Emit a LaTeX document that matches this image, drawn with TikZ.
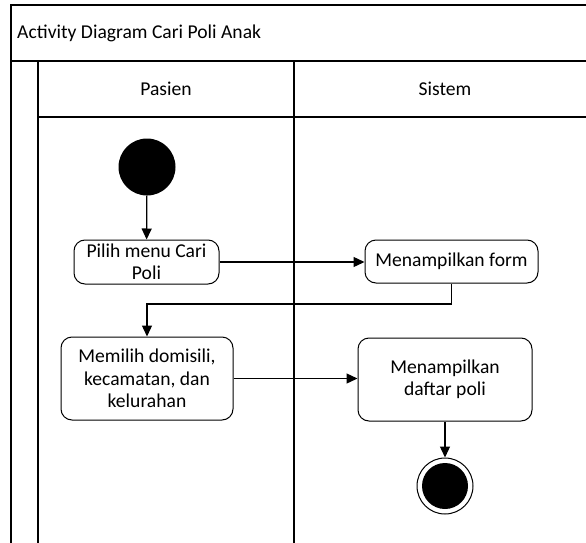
\documentclass[tikz,border=0pt]{standalone}
\usepackage{fontspec}
\setmainfont{Carlito}
\usetikzlibrary{arrows.meta}
\begin{document}
\begin{tikzpicture}[x=1pt,y=-1pt,
  every node/.style={font=\fontsize{19.6}{22.5}\selectfont},
  frame/.style={line width=1.3pt},
  action/.style={draw, line width=1pt, rounded corners=11pt, align=center, inner sep=0pt},
  flow/.style={line width=1.3pt, -{Triangle[length=11pt,width=10pt]}},
  link/.style={line width=1.3pt}]
\useasboundingbox (0,0) rectangle (586,543);
\clip (0,0) rectangle (586,543);
% swimlane frame
\draw[frame] (600,5) -- (11,5) -- (11,560);
\draw[frame] (11,61) -- (600,61);
\draw[frame] (38,61) -- (38,560);
\draw[frame] (294,61) -- (294,560);
\draw[frame] (38,117) -- (600,117);
\node[anchor=west, inner sep=0pt] (title) at (17,33) {Activity Diagram Cari Poli Anak};
\node (lane1) at (166,89) {Pasien};
\node (lane2) at (445,89) {Sistem};
% activity nodes
\node[circle, fill=black, minimum size=57pt, inner sep=0pt] (start) at (147,167) {};
\node[action, minimum width=145pt, minimum height=44pt] (b1) at (146.5,262) {Pilih menu Cari\\Poli};
\node[action, minimum width=173pt, minimum height=43pt] (b2) at (451.5,261.5) {Menampilkan form};
\node[action, minimum width=172pt, minimum height=83pt] (b3) at (147,378.5) {Memilih domisili,\\kecamatan, dan\\kelurahan};
\node[action, minimum width=174pt, minimum height=83pt] (b4) at (445,379.5) {Menampilkan\\daftar poli};
\node[circle, draw, line width=1pt, minimum size=56pt, inner sep=0pt] (endring) at (445,486) {};
\node[circle, fill=black, minimum size=46pt, inner sep=0pt] (enddot) at (445,486) {};
\coordinate (turn) at (0,304);
% control flow
\draw[flow] (start) -- (b1);
\draw[flow] (b1.east) -- (b1.east -| b2.west);
\draw[flow] (b2.south) -- (b2.south |- turn) -| (b3.north);
\draw[flow] (b3.east) -- (b3.east -| b4.west);
\draw[flow] (b4) -- (endring);
\end{tikzpicture}
\end{document}
